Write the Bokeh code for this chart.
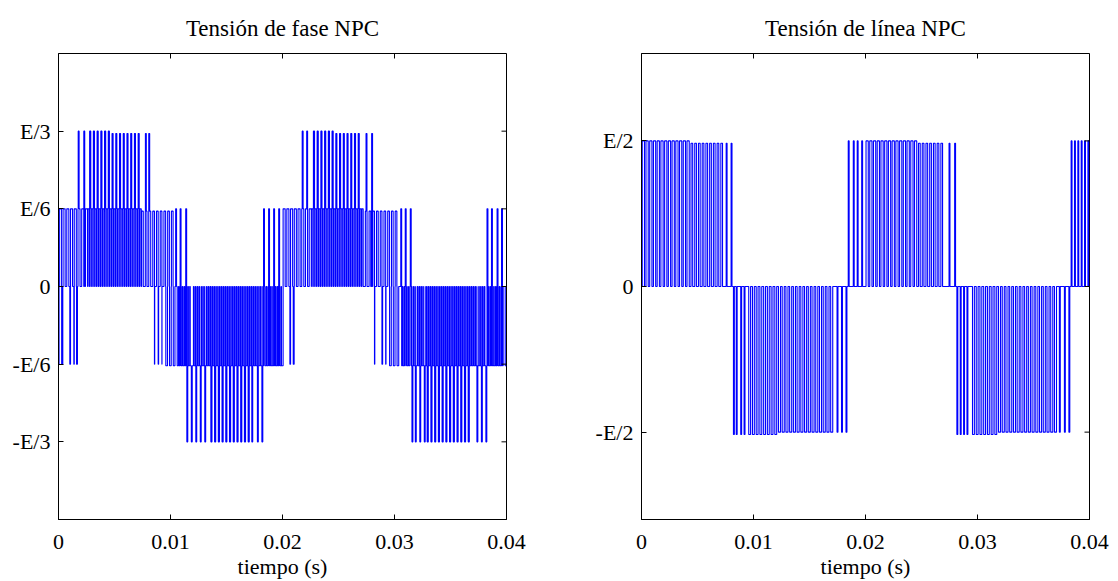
import numpy as np
from bokeh.plotting import figure
from bokeh.models import FixedTicker, Range1d
from bokeh.layouts import row
from bokeh.embed import file_html
from bokeh.resources import INLINE

# ---------------- data ----------------
T_SW = 0.000333        # switching period (s), from spacing of isolated pulses
PULSE_W = 0.00008      # width of the isolated narrow pulses (s)
T_END = 0.04

x_ticks = [0, 0.01, 0.02, 0.03, 0.04]
x_tick_labels = ["0", "0.01", "0.02", "0.03", "0.04"]

# Left panel: phase voltage, levels in units of E/6
fase_y_ticks = [-2, -1, 0, 1, 2]
fase_y_labels = ["-E/3", "-E/6", "0", "E/6", "E/3"]
fase_band_start = [0.0000, 0.0026, 0.0074, 0.0199, 0.0225, 0.0272, 0.0398,
                   0.0026, 0.0048, 0.0225, 0.0248,
                   0.0000, 0.0094, 0.0105, 0.0199, 0.0294, 0.0305, 0.0396,
                   0.01345, 0.0329]
fase_band_end = [0.0026, 0.0074, 0.0102, 0.0225, 0.0272, 0.0303, 0.0400,
                 0.0048, 0.0074, 0.0248, 0.0271,
                 0.0005, 0.0105, 0.0199, 0.0203, 0.0305, 0.0396, 0.0400,
                 0.0170, 0.03695]
fase_band_level = [1.0, 1.0, 0.97, 1.0, 1.0, 0.97, 1.0,
                   2.0, 1.97, 2.0, 1.97,
                   -1.0, -1.02, -1.02, -1.02, -1.02, -1.02, -1.02,
                   -2.0, -2.0]
fase_band_duty = [0.55, 0.75, 0.45, 0.55, 0.75, 0.45, 0.5,
                  0.3, 0.28, 0.3, 0.28,
                  0.3, 0.45, 0.7, 0.45, 0.45, 0.7, 0.45,
                  0.3, 0.3]
fase_band_ppp = [1, 2, 1, 1, 2, 1, 1,          # pulses per switching period
                 1, 1, 1, 1,
                 1, 1, 2, 1, 1, 2, 1,
                 1, 1]
fase_pulse_time = [0.0105, 0.0109, 0.0114, 0.01835, 0.0188, 0.01925, 0.0197,
                   0.0306, 0.0310, 0.03145, 0.0383, 0.0387, 0.0392, 0.0396,
                   0.0018, 0.0023, 0.0078, 0.0081, 0.0218, 0.0222, 0.0275, 0.0280,
                   0.00105, 0.00141, 0.00165, 0.00819, 0.00855, 0.0089, 0.0092,
                   0.0207, 0.0210, 0.0215, 0.0282, 0.0285, 0.0289, 0.0292,
                   0.0115, 0.0119, 0.0123, 0.0127, 0.0131, 0.0173, 0.0178, 0.0182,
                   0.0316, 0.0319, 0.0323, 0.0327, 0.0374, 0.0378, 0.0382]
fase_pulse_level = [1, 1, 1, 1, 1, 1, 1,
                    1, 1, 1, 1, 1, 1, 1,
                    2, 2, 1.97, 1.97, 2, 2, 1.97, 1.97,
                    -1, -1, -1, -1, -1, -1, -1,
                    -1, -1, -1, -1, -1, -1, -1,
                    -2, -2, -2, -2, -2, -2, -2, -2,
                    -2, -2, -2, -2, -2, -2, -2]

# Right panel: line voltage, levels in units of E/2
linea_y_ticks = [-1, 0, 1]
linea_y_labels = ["-E/2", "0", "E/2"]
linea_band_start = [0.0000, 0.0043, 0.0200, 0.0245,
                    0.00944, 0.0120, 0.0295, 0.0319]
linea_band_end = [0.0043, 0.0072, 0.0245, 0.0271,
                  0.0120, 0.0172, 0.0319, 0.0370]
linea_band_level = [1.0, 0.984, 1.0, 0.984,
                    -1.016, -1.0, -1.016, -1.0]
linea_band_duty = [0.6, 0.45, 0.6, 0.45,
                   0.5, 0.55, 0.5, 0.55]
linea_band_ppp = [1, 1, 1, 1, 1, 1, 1, 1]
linea_pulse_time = [0.0076, 0.00804, 0.0185, 0.01895, 0.0193, 0.0197, 0.0275, 0.0280,
                    0.0384, 0.0387, 0.0390, 0.0393, 0.0396, 0.0399,
                    0.00825, 0.0085, 0.0089, 0.0092, 0.0175, 0.0179, 0.0183,
                    0.0282, 0.0285, 0.0288, 0.0291, 0.03735, 0.0378, 0.0382]
linea_pulse_level = [0.984, 0.984, 1, 1, 1, 1, 0.984, 0.984,
                     1, 1, 1, 1, 1, 1,
                     -1.016, -1.016, -1.016, -1.016, -1, -1, -1,
                     -1.016, -1.016, -1.016, -1.016, -1, -1, -1]


# ---------------- build the switched waveform ----------------
def build_wave(b_start, b_end, b_level, b_duty, b_ppp, p_time, p_level):
    starts, ends, levels = [], [], []
    for s, e, lv, d, m in zip(b_start, b_end, b_level, b_duty, b_ppp):
        step = T_SW / m
        n = int(round(T_END / step)) + 2
        for k in range(-1, n):
            c = T_SW / 2 + k * step if lv > 0 else k * step
            if s <= c <= e:
                h = d * step / 2
                starts.append(c - h)
                ends.append(c + h)
                levels.append(lv)
    for t, lv in zip(p_time, p_level):
        starts.append(t - PULSE_W / 2)
        ends.append(t + PULSE_W / 2)
        levels.append(lv)
    starts = np.array(starts)
    ends = np.array(ends)
    levels = np.array(levels, dtype=float)
    bps = np.unique(np.clip(np.concatenate([[0.0, T_END], starts, ends]), 0, T_END))
    mids = (bps[:-1] + bps[1:]) / 2
    cover = (starts[None, :] <= mids[:, None]) & (ends[None, :] > mids[:, None])
    pos = np.where(cover & (levels > 0)[None, :], levels[None, :], 0).max(axis=1)
    neg = np.where(cover & (levels < 0)[None, :], levels[None, :], 0).min(axis=1)
    lev = np.where(pos > 0, pos, neg)
    xs = np.repeat(bps, 2)[1:-1]
    ys = np.repeat(lev, 2)
    return xs, ys


FONT = "Liberation Serif"


def make_panel(title, xs, ys, y_range, yt, yl, width, bl, br):
    p = figure(width=width, height=581, output_backend="svg", toolbar_location=None,
               x_range=Range1d(0, T_END), y_range=Range1d(*y_range),
               min_border_left=bl, min_border_right=br, min_border_top=52,
               min_border_bottom=10)
    p.title.text = title
    p.title.align = "center"
    p.title.text_font = FONT
    p.title.text_font_size = "23px"
    p.title.text_font_style = "normal"
    p.title.text_color = "black"
    p.title.standoff = 26
    p.grid.visible = False
    p.outline_line_color = "black"
    p.outline_line_width = 1
    p.background_fill_color = "white"
    p.border_fill_color = "white"
    p.line(xs, ys, line_color="#0000ff", line_width=1.1)

    # inward ticks on the top and right edges (MATLAB box style)
    p.ray(x=x_ticks, y=[y_range[1]] * len(x_ticks), length=5, angle=-np.pi / 2,
          length_units="screen", line_color="black", line_width=1)
    p.ray(x=[T_END] * len(yt), y=yt, length=5, angle=np.pi,
          length_units="screen", line_color="black", line_width=1)

    xo = {t: l for t, l in zip(x_ticks, x_tick_labels)}
    yo = {t: l for t, l in zip(yt, yl)}
    for ax in p.xaxis:
        ax.ticker = FixedTicker(ticks=x_ticks)
        ax.major_label_overrides = xo
        ax.axis_label = "tiempo (s)"
        ax.major_label_standoff = 15
        ax.axis_label_standoff = 2
        ax.major_label_text_font_size = "22px"
        ax.axis_label_text_font_size = "22px"
    for ax in p.yaxis:
        ax.ticker = FixedTicker(ticks=yt)
        ax.major_label_overrides = yo
        ax.major_label_standoff = 8
        ax.major_label_text_font_size = "22px"
    for ax in p.axis:
        ax.major_tick_in = 5
        ax.major_tick_out = 0
        ax.minor_tick_line_color = None
        ax.axis_line_color = "black"
        ax.major_tick_line_color = "black"
        ax.major_label_text_font = FONT
        ax.major_label_text_color = "black"
        ax.axis_label_text_font = FONT
        ax.axis_label_text_font_style = "normal"
        ax.axis_label_text_color = "black"
    return p


fx, fy = build_wave(fase_band_start, fase_band_end, fase_band_level, fase_band_duty,
                    fase_band_ppp, fase_pulse_time, fase_pulse_level)
lx, ly = build_wave(linea_band_start, linea_band_end, linea_band_level, linea_band_duty,
                    linea_band_ppp, linea_pulse_time, linea_pulse_level)

p1 = make_panel("Tensión de fase NPC", fx, fy, (-3, 3), fase_y_ticks, fase_y_labels,
                578, 58, 72)
p2 = make_panel("Tensión de línea NPC", lx, ly, (-1.6, 1.6), linea_y_ticks, linea_y_labels,
                536, 63, 25)

layout = row(p1, p2)
open("out.html", "w").write(file_html(layout, INLINE))
